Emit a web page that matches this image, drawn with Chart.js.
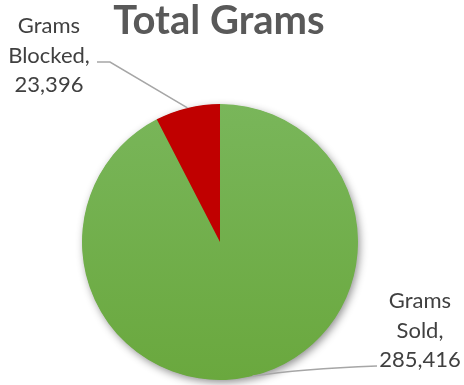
<!DOCTYPE html>
<html>
<head>
<meta charset="utf-8">
<script src="https://cdn.jsdelivr.net/npm/chart.js@4"></script>
<style>
  html, body { margin: 0; padding: 0; background: #ffffff; }
  #wrap { width: 464px; height: 385px; }
</style>
</head>
<body>
<div id="wrap"><canvas id="c" width="464" height="385"></canvas></div>
<script>
const chartTitle = "Total Grams";
const categories = ["Grams Sold", "Grams Blocked"];
const values = [285416, 23396];
const labelLines = [["Grams", "Sold,", "285,416"], ["Grams", "Blocked,", "23,396"]];
const sliceColors = ["#70AD47", "#C00000"];

const ctxEl = document.getElementById('c');

function sliceFill(context) {
  const chart = context.chart;
  const area = chart.chartArea;
  const i = context.dataIndex;
  if (i !== 0 || !area) return sliceColors[i];
  const g = chart.ctx.createLinearGradient(0, area.top, 0, area.bottom);
  g.addColorStop(0, '#79B65A');
  g.addColorStop(1, '#6AA83E');
  return g;
}

const shadowPlugin = {
  id: 'pieShadow',
  beforeDatasetsDraw(chart) {
    const arc = chart.getDatasetMeta(0).data[0];
    if (!arc) return;
    const ctx = chart.ctx;
    ctx.save();
    ctx.shadowColor = 'rgba(0,0,0,0.45)';
    ctx.shadowBlur = 9;
    ctx.shadowOffsetX = 2;
    ctx.shadowOffsetY = 3;
    ctx.fillStyle = '#70AD47';
    ctx.beginPath();
    ctx.arc(arc.x, arc.y, arc.outerRadius - 0.5, 0, Math.PI * 2);
    ctx.fill();
    ctx.restore();
  }
};

const labelPlugin = {
  id: 'outLabels',
  afterDraw(chart) {
    const ctx = chart.ctx;
    const meta = chart.getDatasetMeta(0);
    ctx.save();
    // title
    ctx.fillStyle = '#595959';
    ctx.font = 'bold 40px Lato';
    ctx.textAlign = 'center';
    ctx.textBaseline = 'alphabetic';
    ctx.fillText(chartTitle, 219, 34);

    // leader lines
    ctx.strokeStyle = '#A6A6A6';
    ctx.lineWidth = 1.5;
    const pts = meta.data.map(a => {
      const mid = (a.startAngle + a.endAngle) / 2;
      return [a.x + Math.cos(mid) * a.outerRadius, a.y + Math.sin(mid) * a.outerRadius];
    });
    // sold
    ctx.beginPath();
    ctx.moveTo(pts[0][0], pts[0][1]);
    ctx.quadraticCurveTo(300, 369, 377, 366);
    ctx.stroke();
    // blocked
    ctx.beginPath();
    ctx.moveTo(pts[1][0], pts[1][1]);
    ctx.lineTo(110, 62);
    ctx.lineTo(97, 62);
    ctx.stroke();

    // labels
    ctx.fillStyle = '#404040';
    ctx.font = '22px Lato';
    ctx.textAlign = 'center';
    const soldBase = [308, 338, 367];
    labelLines[0].forEach((t, i) => ctx.fillText(t, 420, soldBase[i]));
    const blockBase = [33, 63, 92];
    labelLines[1].forEach((t, i) => ctx.fillText(t, 49, blockBase[i]));
    ctx.restore();
  }
};

new Chart(ctxEl, {
  type: 'pie',
  data: {
    labels: categories,
    datasets: [{
      data: values,
      backgroundColor: sliceFill,
      borderWidth: 0,
      hoverOffset: 0
    }]
  },
  options: {
    responsive: false,
    animation: false,
    events: [],
    rotation: 0,
    layout: { padding: { left: 82, right: 106, top: 104, bottom: 5 } },
    plugins: {
      legend: { display: false },
      title: { display: false },
      tooltip: { enabled: false }
    }
  },
  plugins: [shadowPlugin, labelPlugin]
});
</script>
</body>
</html>
